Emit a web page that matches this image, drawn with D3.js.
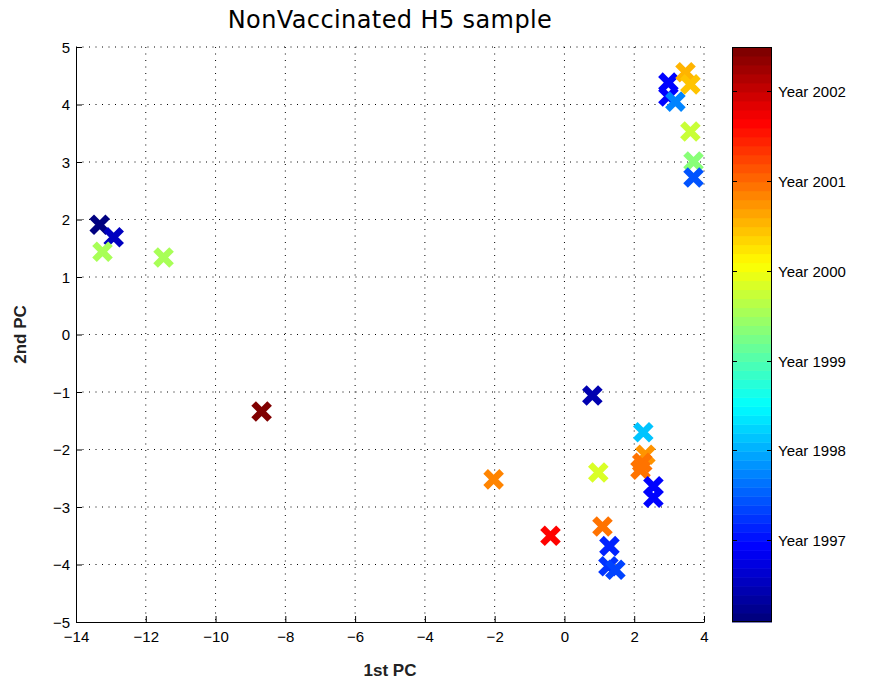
<!DOCTYPE html>
<html>
<head>
<meta charset="utf-8">
<script src="https://cdn.jsdelivr.net/npm/d3@7"></script>
<style>
html,body{margin:0;padding:0;background:#fff;}
svg{display:block;}
</style>
</head>
<body>
<svg id="chart" width="869" height="681"></svg>
<script>
// ---- data ----
const pc1 = [-13.32, -12.92, -13.24, -11.49, -8.68, 0.80, 2.26, 2.32, 2.23, 2.18, 2.55, 2.55, 0.97, -2.03, -0.40, 1.09, 1.29, 1.26, 1.46, 2.98, 2.98, 3.18, 3.47, 3.61, 3.61, 3.70, 3.70];
const pc2 = [1.91, 1.69, 1.44, 1.34, -1.34, -1.06, -1.70, -2.09, -2.23, -2.35, -2.64, -2.84, -2.40, -2.52, -3.50, -3.34, -3.68, -4.03, -4.09, 4.38, 4.14, 4.05, 4.56, 4.35, 3.53, 3.01, 2.73];
const year = [1996.15, 1996.55, 1999.5, 1999.5, 2002.45, 1996.45, 1998.1, 2000.7, 2000.95, 2000.95, 1996.95, 1996.95, 1999.8, 2000.85, 2001.6, 2000.97, 1997.1, 1997.2, 1997.35, 1996.95, 1996.95, 1997.7, 2000.55, 2000.45, 1999.7, 1999.3, 1997.4];
const xTicks = [-14, -12, -10, -8, -6, -4, -2, 0, 2, 4];
const yTicks = [-5, -4, -3, -2, -1, 0, 1, 2, 3, 4, 5];
const cbTicks = [1997, 1998, 1999, 2000, 2001, 2002];
const cbLabels = ["Year 1997", "Year 1998", "Year 1999", "Year 2000", "Year 2001", "Year 2002"];
const colorRange = [1996.09, 2002.49];
const titleText = "NonVaccinated H5 sample";
const xLabel = "1st PC";
const yLabel = "2nd PC";

// ---- layout ----
const L = 76, R = 704, T = 47, B = 622;
const svg = d3.select("#chart");
const x = d3.scaleLinear().domain([-14, 4]).range([L, R]);
const y = d3.scaleLinear().domain([-5, 5]).range([B, T]);

const NC = 64;
function jet(t) {
  const c = v => Math.max(0, Math.min(1, v));
  const r = c(1.5 - Math.abs(4 * t - 3));
  const g = c(1.5 - Math.abs(4 * t - 2));
  const b = c(1.5 - Math.abs(4 * t - 1));
  return d3.rgb(r * 255, g * 255, b * 255).toString();
}
const jetColors = d3.range(NC).map(i => jet(i / (NC - 1)));
const cnorm = d3.scaleLinear().domain(colorRange).range([0, NC]).clamp(true);
const colorOf = v => jetColors[Math.min(NC - 1, Math.floor(cnorm(v)))];

const fontTick = "'Liberation Sans', Arial, Helvetica, sans-serif";

// grid
const grid = svg.append("g");
xTicks.forEach(t => {
  if (t === -14) return;
  grid.append("line").attr("x1", x(t)).attr("x2", x(t)).attr("y1", T).attr("y2", B)
    .attr("stroke", "#000").attr("stroke-width", 1).attr("stroke-dasharray", "1,5.5");
});
yTicks.forEach(t => {
  if (t === -5) return;
  grid.append("line").attr("x1", L).attr("x2", R).attr("y1", y(t)).attr("y2", y(t))
    .attr("stroke", "#000").attr("stroke-width", 1).attr("stroke-dasharray", "1,5.5");
});

// axes
const xAxis = d3.axisBottom(x).tickValues(xTicks).tickSizeInner(-6).tickSizeOuter(0)
  .tickFormat(d => d < 0 ? "\u2212" + Math.abs(d) : d);
const yAxis = d3.axisLeft(y).tickValues(yTicks).tickSizeInner(-6).tickSizeOuter(0)
  .tickFormat(d => d < 0 ? "\u2212" + Math.abs(d) : d);
const gx = svg.append("g").attr("transform", `translate(0,${B})`).call(xAxis);
const gy = svg.append("g").attr("transform", `translate(${L},0)`).call(yAxis);
[gx, gy].forEach(g => {
  g.select(".domain").attr("stroke", "#000").attr("stroke-width", 1);
  g.selectAll(".tick line").attr("stroke", "#000");
  g.selectAll(".tick text").attr("font-family", fontTick).attr("font-size", 15).attr("fill", "#000");
});
gx.selectAll(".tick text").attr("dy", "0").attr("y", 20);
gy.selectAll(".tick text").attr("x", -6).attr("dy", "0.35em");

// markers
const a = 8.0;
const mk = svg.append("g");
pc1.forEach((px, i) => {
  const cx = x(px), cy = y(pc2[i]);
  const col = colorOf(year[i]);
  const p = `M${cx - a},${cy - a}L${cx + a},${cy + a}M${cx - a},${cy + a}L${cx + a},${cy - a}`;
  mk.append("path").attr("d", p).attr("stroke", col).attr("stroke-width", 6.5)
    .attr("stroke-linecap", "butt").attr("fill", "none");
});

// colorbar
const CL = 732, CR = 772;
const cy = d3.scaleLinear().domain(colorRange).range([B, T]);
const cb = svg.append("g");
const step = (colorRange[1] - colorRange[0]) / NC;
jetColors.forEach((c, i) => {
  const v0 = colorRange[0] + i * step, v1 = v0 + step;
  cb.append("rect").attr("x", CL).attr("width", CR - CL)
    .attr("y", cy(v1)).attr("height", cy(v0) - cy(v1) + 0.5)
    .attr("fill", c);
});
cb.append("rect").attr("x", CL + 0.5).attr("y", T + 0.5).attr("width", CR - CL - 1).attr("height", B - T - 1)
  .attr("fill", "none").attr("stroke", "#000").attr("stroke-width", 1);
cbTicks.forEach((t, i) => {
  const yy = Math.round(cy(t)) + 0.5;
  cb.append("line").attr("x1", CL).attr("x2", CL + 5).attr("y1", yy).attr("y2", yy).attr("stroke", "#000");
  cb.append("line").attr("x1", CR - 5).attr("x2", CR).attr("y1", yy).attr("y2", yy).attr("stroke", "#000");
  cb.append("text").attr("x", CR + 6).attr("y", yy).attr("dy", "0.35em")
    .attr("font-family", fontTick).attr("font-size", 15).attr("fill", "#000").text(cbLabels[i]);
});

// title & labels
svg.append("text").attr("x", (L + R) / 2).attr("y", 28).attr("text-anchor", "middle")
  .attr("font-family", "'DejaVu Sans', sans-serif").attr("font-size", 24).attr("letter-spacing", 0.4).attr("fill", "#000")
  .text(titleText);
svg.append("text").attr("x", (L + R) / 2).attr("y", 676).attr("text-anchor", "middle")
  .attr("font-family", fontTick).attr("font-weight", "bold").attr("font-size", 17).attr("fill", "#222")
  .text(xLabel);
svg.append("text").attr("transform", `translate(26,${(T + B) / 2}) rotate(-90)`).attr("text-anchor", "middle")
  .attr("font-family", fontTick).attr("font-weight", "bold").attr("font-size", 17).attr("fill", "#222")
  .text(yLabel);
</script>
</body>
</html>
